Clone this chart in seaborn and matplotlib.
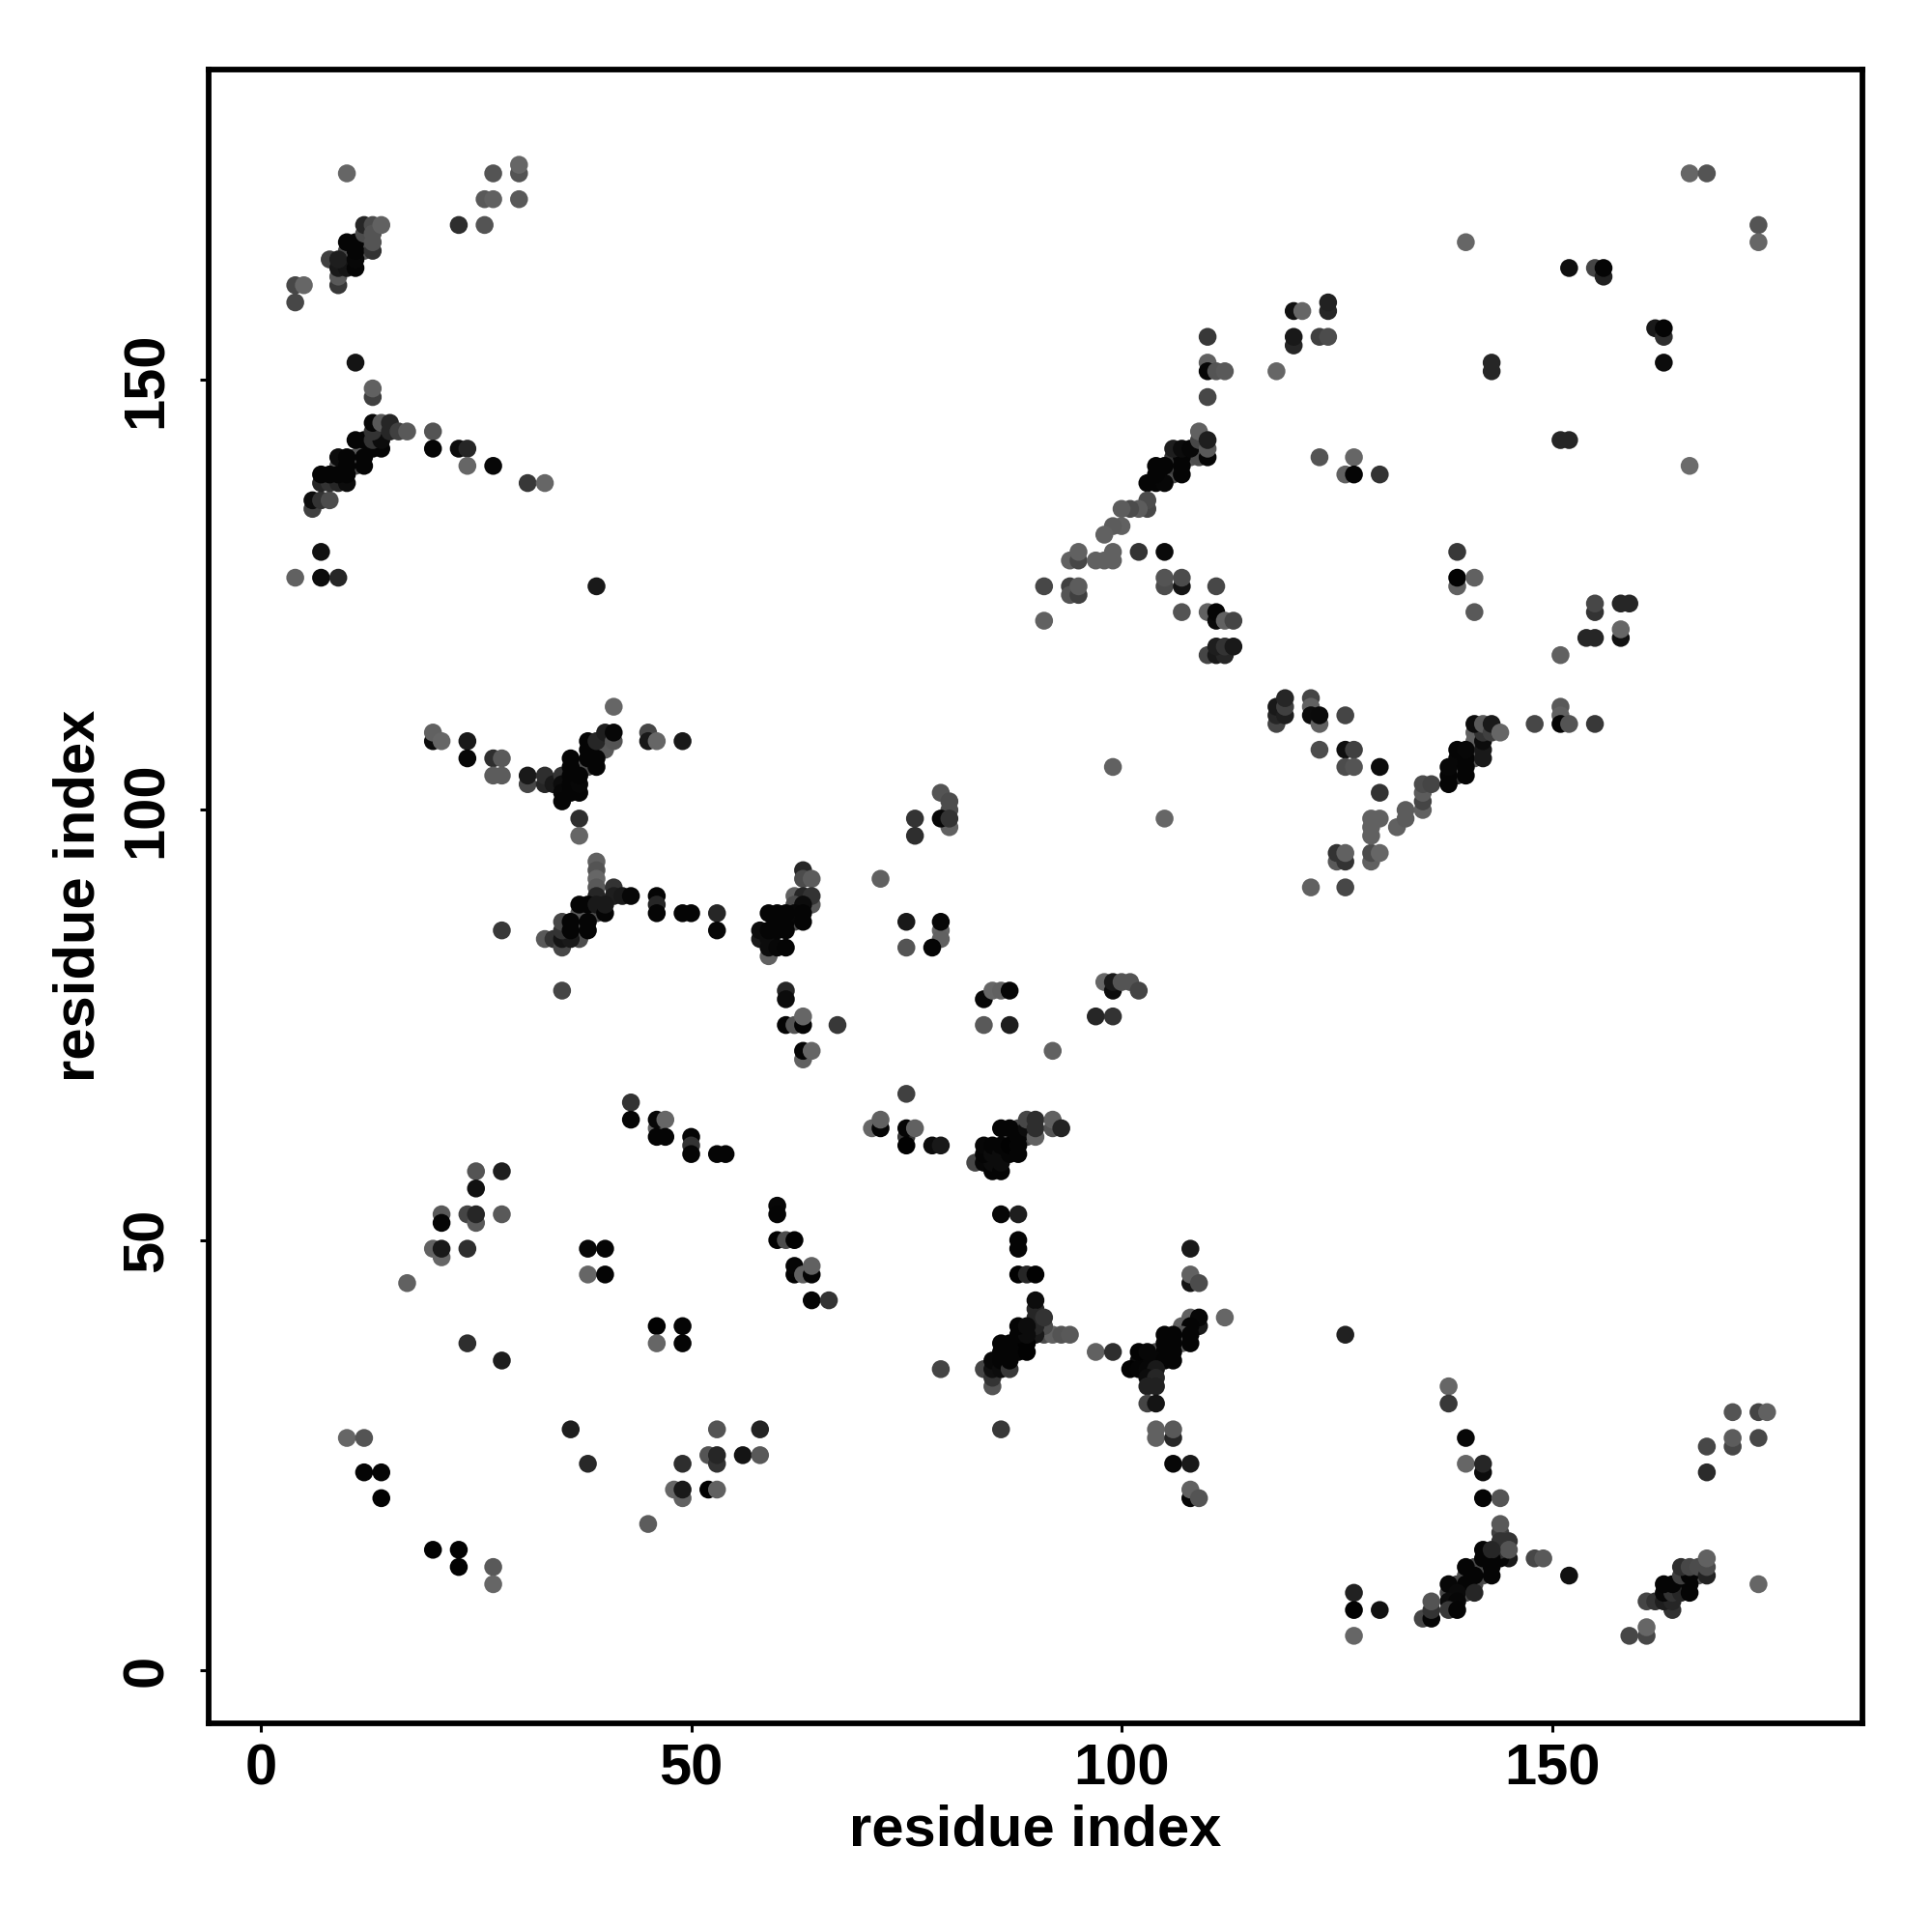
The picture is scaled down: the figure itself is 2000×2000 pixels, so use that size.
import matplotlib
matplotlib.use('Agg')
import matplotlib.pyplot as plt
import pandas as pd
import seaborn as sns

# contacts, grouped by cluster: (residue i, residue j, grey level)
top_left = [(10,174,.4),(27,174,.33),(30,174,.33),(30,175,.4),(26,171,.35),(27,171,.38),(30,171,.35),
            (23,168,.18),(26,168,.33),(4,161,.28),(5,161,.4),(4,159,.28),(9,161,.22),(9,162,.35),
            (10,165,.3),(12,165,.33),(8,164,.25),(9,163,.1),(10,163,.08),(9,164,.12),(11,163,.02),(11,164,.03),
            (10,166,.02),(11,166,.02),(11,165,.02),(12,167,.3),(12,168,.15),(13,165,.2),
            (13,168,.3),(13,166,.33),(13,167,.33),(14,168,.38)]
left_upper = [(11,152,.08),(13,148,.25),(13,149,.38),(4,127,.38),(7,127,.05),(9,127,.15),(7,130,.07),
              (39,126,.1),(20,144,.33),(20,142,.02),(23,142,.05),(24,142,.15),(24,140,.4),(27,140,.03),
              (31,138,.22),(33,138,.4),(9,140,.35),(11,140,.3),(11,141,.35),(12,142,.35),
              (6,135,.25),(6,136,.05),(7,136,.2),(8,136,.3),(7,138,.15),
              (8,138,.2),(9,138,.15),(10,138,.05),(7,139,.02),(8,139,.02),(9,139,.02),(10,139,.02),
              (9,141,.05),(10,141,.02),(10,140,.02),(12,140,.02),
              (12,141,.02),(11,143,.02),(12,143,.02),(13,142,.02),(14,142,.02),(13,143,.2),
              (14,143,.05),(13,144,.2),(13,145,.03),(14,145,.35),(15,145,.15),(15,144,.15),(16,144,.25),
              (17,144,.35)]
upper_mid = [(110,155,.22),(110,152,.38),(110,151,.03),(111,151,.33),(112,151,.35),(118,151,.4),(110,148,.28),
             (120,158,.07),(121,158,.4),(124,158,.15),(124,159,.13),(120,154,.15),(120,155,.1),(123,155,.25),
             (124,155,.3),(123,141,.33),(127,141,.4),(126,139,.38),(127,139,.02),(130,139,.2),
             (105,139,.3),(106,139,.3),(106,140,.25),(106,141,.2),(108,141,.33),(109,141,.3),(109,142,.3),
             (103,138,.02),(104,138,.02),(105,138,.03),(104,139,.02),(107,139,.02),
             (104,140,.02),(105,140,.02),(107,140,.02),(107,141,.02),
             (106,142,.12),(107,142,.05),(108,142,.03),(109,143,.28),
             (109,144,.38),(110,141,.02),(110,142,.35),(110,143,.12),
             (103,135,.28),(103,136,.3),(102,135,.36),(101,135,.3),(100,135,.36),(100,133,.38),(99,133,.36),
             (98,132,.38),(102,130,.2),(105,130,.04),(94,129,.38),(95,129,.28),(95,130,.38),(97,129,.38),
             (98,129,.38),(99,129,.38),(99,130,.38),(91,126,.28),(94,126,.25),(94,125,.33),(95,125,.25),
             (95,126,.36),(105,126,.3),(105,127,.33),(107,126,.08),(107,127,.3),(111,126,.28),(107,123,.33),
             (110,123,.38),(111,122,.04),(111,123,.02),(112,122,.38),(113,122,.27),(91,122,.38),
             (110,118,.27),(111,118,.1),(112,118,.15),(111,119,.12),(112,119,.2),(113,119,.1)]
top_right = [(166,174,.4),(168,174,.33),(174,168,.33),(174,166,.4),(140,166,.4),(152,163,.06),(155,163,.27),
             (156,162,.13),(156,163,.02),(162,156,.1),(163,155,.18),(163,156,.02),(163,152,.05),(143,151,.15),
             (143,152,.15),(151,143,.15),(152,143,.15),(166,140,.42),(139,130,.22),(139,126,.38),(139,127,.01),
             (141,127,.38),(141,123,.35),(155,123,.2),(155,124,.28),(158,124,.15),(159,124,.15),(158,120,.07),
             (158,121,.4),(154,120,.15),(155,120,.15),(151,118,.38)]
mid_right = [(118,110,.27),(118,111,.15),(118,112,.1),(119,111,.12),(119,112,.25),(119,113,.15),(122,113,.27),
             (122,112,.38),(122,111,.05),(123,110,.38),(123,111,.04),(126,111,.27),(123,107,.3),(126,107,.06),
             (127,107,.25),(126,105,.3),(127,105,.33),(130,105,.05),(130,102,.2),(125,94,.35),(125,95,.2),
             (126,94,.2),(126,95,.38),(122,91,.38),(126,91,.28),(129,94,.38),(129,95,.3),(130,95,.4),(129,97,.38),
             (129,98,.38),(129,99,.38),(130,99,.38),(132,98,.38),(133,99,.36),(133,100,.36),(135,100,.38),
             (135,101,.27),(135,102,.36),(135,103,.3),(136,103,.27),(139,104,.2),(139,105,.3),(141,106,.33),
             (141,107,.35),(141,108,.38),(141,109,.38),(138,103,.02),(138,104,.02),(138,105,.03),(139,106,.03),
             (139,107,.02),(140,104,.02),(140,105,.02),(140,106,.02),(140,107,.03),(142,106,.1),(142,107,.1),
             (142,108,.05),(142,109,.2),(141,110,.05),(142,110,.35),(143,109,.25),(143,110,.1),(144,109,.4),
             (148,110,.28),(151,112,.35),(151,111,.38),(151,110,.02),(152,110,.33),(155,110,.22),
             (99,105,.38),(105,99,.4)]
mid_left = [(41,112,.4),(20,108,.05),(20,109,.38),(21,108,.4),(24,108,.1),(24,106,.03),(27,106,.18),(28,106,.35),
            (27,104,.36),(28,104,.36),(31,103,.28),(31,104,.1),(33,103,.15),(33,104,.18),(34,103,.1),
            (35,104,.2),(37,105,.35),(38,105,.3),(40,107,.35),(35,103,.05),(35,102,.03),(35,101,.02),(36,102,.02),
            (36,103,.02),(36,104,.02),(36,105,.02),(36,106,.02),(37,102,.02),(37,103,.03),(37,104,.02),(38,106,.02),
            (38,107,.02),(38,108,.02),(39,105,.02),(39,106,.02),(39,108,.15),(40,109,.12),(41,108,.33),(41,109,.03),
            (37,99,.18),(37,97,.4),(45,109,.28),(45,108,.1),(46,108,.4),(49,108,.1)]
mid_bend = [(28,86,.22),(39,94,.38),(39,93,.33),(39,92,.4),(39,91,.35),(39,90,.15),(41,91,.2),(41,90,.12),(42,90,.1),
            (43,90,.03),(46,90,.02),(46,89,.15),(46,88,.02),(49,88,.02),(50,88,.02),(53,88,.15),(53,86,.03),
            (37,85,.3),(37,86,.3),(37,87,.35),(37,88,.35),(39,88,.3),
            (33,85,.35),(34,85,.2),(35,84,.28),(35,85,.08),(36,85,.1),(35,86,.2),(35,87,.28),(36,86,.02),(36,87,.02),
            (38,86,.02),(38,87,.02),(37,89,.02),(38,89,.02),
            (39,89,.1),(40,88,.02),(40,89,.1),(35,79,.27)]
mid_run = [(43,66,.2),(43,64,.02),(46,63,.38),(46,64,.03),(47,64,.4),(46,62,.02),(47,62,.02),(50,62,.02),(50,61,.2),
           (50,60,.02),(53,60,.02),(54,60,.02),(25,58,.33),(28,58,.12),(25,56,.07),(21,53,.35),(21,52,.02),
           (24,53,.27),(25,52,.35),(25,53,.15),(28,53,.35),(20,49,.38),(21,48,.4),(21,49,.1),(24,49,.18),(17,45,.38),
           (38,49,.03),(40,49,.02),(38,46,.4),(40,46,.02),(46,40,.01),(49,40,.02),(46,38,.4),(49,38,.02),(24,38,.18),
           (28,36,.12)]
low_left = [(10,27,.4),(12,27,.33),(12,23,.02),(14,23,.02),(14,20,.01),(20,14,.01),(23,14,.01),(23,12,.01),(27,12,.35),
            (27,10,.4),(36,28,.12),(38,24,.16),(53,28,.33),(58,28,.14),(52,25,.33),(53,24,.2),(53,25,.15),(56,25,.08),
            (58,25,.35),(49,24,.18),(48,21,.4),(49,20,.38),(49,21,.1),(52,21,.01),(53,21,.38),(45,17,.36)]
center_upper = [(72,92,.38),(79,102,.33),(80,101,.3),(80,100,.3),(80,98,.38),(79,99,.03),(80,99,.2),(76,99,.2),(76,97,.18),
                (63,93,.15),(63,92,.3),(64,92,.36),(62,90,.38),(63,90,.15),(64,89,.35),(64,90,.2),(62,89,.3),
                (62,87,.3),(63,89,.05),(59,83,.38),(58,85,.1),(58,86,.05),(59,84,.05),(59,85,.05),(59,86,.02),(60,84,.03),
                (61,84,.02),(60,86,.02),(61,86,.02),(60,87,.02),(61,87,.02),(62,88,.03),(63,87,.02),
                (63,88,.02),(59,88,.02),(60,88,.02),(61,88,.02),(61,79,.15),(61,78,.05),(61,75,.02),(62,75,.33),
                (63,75,.02),(63,76,.4),(67,75,.22),(63,71,.38),(63,72,.02),(64,72,.4),(75,87,.1),(79,86,.4),(79,85,.38),
                (79,87,.03),(78,84,.02),(75,84,.33),(84,78,.03),(85,79,.4),(86,79,.38),(87,79,.02),(84,75,.35),(87,75,.12),
                (92,72,.38),(98,80,.4),(99,79,.05),(99,80,.1),(100,80,.33),(101,80,.33),(102,79,.27),(97,76,.15),(99,76,.2),
                (75,67,.25),(71,63,.4),(72,63,.02),(72,64,.38),(75,62,.22),(75,63,.02),(76,63,.38),(75,61,.01),(78,61,.05),
                (79,61,.1)]
center_bend = [(87,62,.35),(88,63,.3),(89,62,.3),(83,59,.28),(84,59,.03),(85,58,.02),(85,59,.05),(86,58,.02),(86,59,.05),
               (84,60,.02),(84,61,.03),(85,60,.05),(85,61,.02),(86,60,.05),(86,61,.02),(87,60,.02),(87,61,.01),(88,60,.02),
               (88,61,.02),(88,62,.02),(86,63,.02),(87,63,.02),(89,63,.05),(89,64,.28),(90,62,.38),(90,63,.18),(90,64,.18),
               (92,63,.33),(92,64,.38),(93,63,.14),(86,53,.03),(88,53,.12),(60,54,.03),(60,53,.02)]
lower_mid = [(60,50,.01),(61,50,.3),(62,50,.01),(62,46,.01),(62,47,.02),(63,46,.38),(64,46,.02),(64,47,.38),(64,43,.02),
             (66,43,.2),(88,49,.02),(88,50,.02),(88,46,.01),(89,46,.15),(90,46,.01),(90,42,.15),(90,43,.05),(91,39,.3),
             (92,39,.38),(93,39,.33),(94,39,.35),(91,40,.3),(90,39,.1),(90,40,.15),(90,41,.15),(91,41,.2),(79,35,.27),
             (87,37,.35),(88,38,.33),(84,35,.27),(85,33,.33),(85,34,.2),(85,35,.06),(85,36,.03),(86,35,.05),(86,36,.02),
             (87,35,.22),(87,36,.02),(86,37,.02),(86,38,.02),(88,37,.02),(87,38,.02),(89,37,.01),(89,38,.01),(88,39,.02),
             (89,39,.05),(88,40,.02),(89,40,.05),(86,28,.22)]
lower_right = [(97,37,.38),(99,37,.18),(108,49,.1),(108,45,.08),(108,46,.38),(109,45,.3),(112,41,.4),(108,41,.38),(109,40,.1),
               (109,41,.03),(107,40,.38),(108,40,.02),(107,38,.38),(107,39,.33),(108,38,.02),(108,39,.02),(104,37,.3),(105,38,.02),
               (105,39,.02),(106,38,.02),(106,39,.02),(105,37,.02),(106,37,.02),(104,36,.03),(105,36,.02),(106,36,.02),
               (102,36,.05),(103,36,.03),(102,37,.01),(103,37,.03),(101,35,.01),(102,35,.02),(103,35,.03),(104,35,.1),(103,34,.05),
               (104,34,.15),(103,33,.13),(104,33,.13),(103,31,.27),(104,31,.08),(104,27,.38),(104,28,.38),(106,27,.15),(106,28,.35),
               (106,24,.03),(108,24,.1),(108,20,.02),(108,21,.38),(109,20,.33),(126,39,.13)]
bottom_right = [(127,9,.13),(127,7,.01),(127,4,.4),(130,7,.07),(138,33,.4),(138,31,.22),(140,27,.03),(140,24,.4),(142,23,.05),
                (142,24,.15),(142,20,.02),(144,20,.33),(144,16,.25),(144,17,.35),(141,12,.3),(142,12,.28),(140,11,.3),(142,11,.3),
                (141,10,.28),(139,10,.28),(138,9,.27),(140,9,.3),(144,15,.2),(145,15,.2),(145,13,.1),(144,13,.03),
                (144,14,.2),(145,14,.33),(142,13,.02),(143,13,.02),(142,14,.02),(143,14,.15),(143,12,.02),
                (140,12,.02),(141,11,.02),(143,11,.02),(140,10,.02),(138,10,.03),
                (139,9,.04),(141,9,.15),(138,8,.05),(139,8,.03),(135,6,.27),(136,6,.02),(136,7,.2),(136,8,.33),
                (138,7,.22),(139,7,.02),(148,13,.28),(149,13,.35),(152,11,.07)]
bottom_corner = [(171,30,.33),(174,30,.27),(175,30,.38),(171,26,.28),(171,27,.36),(174,27,.28),(168,26,.28),(168,23,.17),
                 (174,10,.4),(159,4,.28),(161,4,.28),(161,5,.4),(165,10,.33),(167,11,.33),(161,8,.27),(162,8,.2),(164,7,.2),
                 (163,8,.12),(164,8,.15),(163,9,.03),(164,9,.2),(165,9,.15),(166,9,.02),(163,10,.02),(164,10,.02),(166,10,.02),
                 (165,11,.25),(166,11,.02),(165,12,.18),(166,12,.28),(167,12,.3),(168,11,.14),(168,12,.3),(168,13,.38)]

clusters = [top_left, left_upper, upper_mid, top_right, mid_right, mid_left, mid_bend, mid_run, low_left,
            center_upper, center_bend, lower_mid, lower_right, bottom_right, bottom_corner]
tick_values = [0, 50, 100, 150]

df = pd.DataFrame([p for c in clusters for p in c], columns=['i', 'j', 'grey'])

sns.set_theme(style='white')
plt.rcParams['font.family'] = ['Liberation Sans', 'DejaVu Sans']
plt.rcParams['font.weight'] = 'bold'

fig = plt.figure(figsize=(20, 20), dpi=100)
ax = fig.add_axes([216/2000, 1-1783.6/2000, (1928-216)/2000, (1783.6-72)/2000])

sns.scatterplot(data=df, x='i', y='j', hue='grey', hue_norm=(0, 1), palette='gray',
                s=178, linewidth=0, legend=False, ax=ax)

ax.set_xlim(-6.06, 186.08)
ax.set_ylim(-6.13, 186.07)
ax.set_xticks(tick_values)
ax.set_yticks(tick_values)
ax.tick_params(axis='both', length=6.8, width=2.2, color='black', labelsize=43, labelcolor='black', bottom=True, left=True)
ax.tick_params(axis='x', pad=8)
ax.tick_params(axis='y', pad=19)
plt.setp(ax.get_yticklabels(), rotation=90, va='center')
ax.set_xlabel('residue index', fontsize=43, fontweight='bold', color='black', labelpad=6)
ax.set_ylabel('residue index', fontsize=43, fontweight='bold', color='black', labelpad=11)
for s in ax.spines.values():
    s.set_visible(True)
    s.set_linewidth(4.2)
    s.set_color('black')

fig.savefig('out.png', dpi=100, facecolor='white')
